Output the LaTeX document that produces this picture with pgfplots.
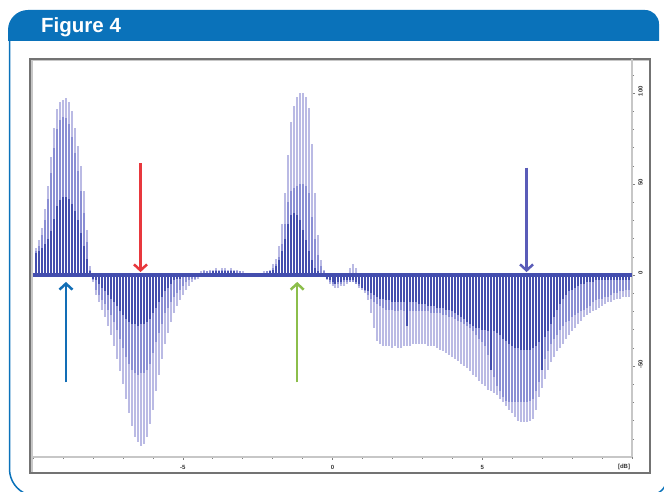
\documentclass[border=0pt]{standalone}
\usepackage{fontspec}
\setmainfont{Liberation Sans}
\usepackage{pgfplots}
\usepackage{pgfplotstable}
\pgfplotsset{compat=1.18}
\usetikzlibrary{arrows.meta}
\definecolor{hdr}{RGB}{10,114,186}
\definecolor{lightc}{RGB}{186,186,228}
\definecolor{midc}{RGB}{138,142,212}
\definecolor{darkc}{RGB}{68,78,174}
\definecolor{arrred}{RGB}{232,56,61}
\definecolor{arrblue}{RGB}{18,110,182}
\definecolor{arrgreen}{RGB}{140,190,75}
\definecolor{arrpurple}{RGB}{90,92,184}
\pgfplotstableread{
x L M D
-9.9 15 13 12
-9.8 19 16 13
-9.7 26 22 15
-9.6 36 30 17
-9.5 49 42 20
-9.4 65 56 24
-9.3 81 70 31
-9.2 91 80 38
-9.1 95 85 41
-9.0 96 87 43
-8.9 97 86 43
-8.8 95 83 42
-8.7 90 76 39
-8.6 81 67 35
-8.5 71 57 30
-8.4 60 46 23
-8.3 46 34 16
-8.2 25 18 9
-8.1 5 3 2
-8.0 -4 -3 -2
-7.9 -11 -8 -3
-7.8 -15 -11 -5
-7.7 -19 -14 -7
-7.6 -23 -16 -9
-7.5 -28 -19 -11
-7.4 -33 -22 -13
-7.3 -39 -26 -15
-7.2 -46 -30 -17
-7.1 -53 -35 -20
-7.0 -60 -40 -22
-6.9 -68 -45 -24
-6.8 -76 -49 -26
-6.7 -83 -52 -27
-6.6 -89 -54 -27
-6.5 -92 -55 -28
-6.4 -94 -54 -27
-6.3 -93 -54 -27
-6.2 -89 -52 -26
-6.1 -82 -49 -24
-6.0 -74 -43 -21
-5.9 -64 -37 -18
-5.8 -55 -32 -15
-5.7 -46 -27 -12
-5.6 -38 -21 -9
-5.5 -32 -18 -7
-5.4 -26 -15 -5
-5.3 -21 -12 -3
-5.2 -17 -10 -2
-5.1 -14 -8 -2
-5.0 -11 -6 -1
-4.9 -8 -4 -1
-4.8 -6 -3 -1
-4.7 -4 -2 -1
-4.6 -3 -2 -1
-4.5 -2 -1 -1
-4.4 2 1 1
-4.3 3 2 1
-4.2 2 2 1
-4.1 3 2 1
-4.0 3 2 2
-3.9 4 3 2
-3.8 3 2 2
-3.7 4 3 2
-3.6 4 3 2
-3.5 3 2 2
-3.4 4 3 2
-3.3 3 2 2
-3.2 3 2 1
-3.1 2 2 1
-3.0 2 1 1
-2.9 1 1 1
-2.8 1 1 1
-2.7 1 1 1
-2.6 1 1 1
-2.5 1 1 1
-2.4 1 1 1
-2.3 2 1 1
-2.2 2 2 1
-2.1 3 2 2
-2.0 6 4 3
-1.9 9 6 5
-1.8 16 10 8
-1.7 28 17 13
-1.6 45 28 20
-1.5 66 40 28
-1.4 84 46 33
-1.3 93 48 34
-1.2 98 49 33
-1.1 100 50 30
-1.0 100 50 25
-0.9 98 49 19
-0.8 92 45 13
-0.7 72 32 8
-0.6 45 20 4
-0.5 22 11 2
-0.4 8 5 1
-0.3 3 2 1
-0.2 -3 -2 -2
-0.1 -5 -4 -3
0.0 -6 -5 -4
0.1 -7 -5 -5
0.2 -7 -5 -4
0.3 -6 -5 -4
0.4 -6 -4 -3
0.5 -5 -4 -3
0.6 4 -4 -3
0.7 6 -4 -3
0.8 4 -5 -4
0.9 -7 -6 -5
1.0 -8 -7 -7
1.1 -10 -9 -8
1.2 -14 -11 -9
1.3 -21 -13 -10
1.4 -29 -15 -11
1.5 -36 -16 -12
1.6 -38 -17 -13
1.7 -39 -18 -13
1.8 -39 -19 -14
1.9 -39 -19 -14
2.0 -40 -19 -15
2.1 -39 -20 -15
2.2 -40 -20 -15
2.3 -40 -19 -15
2.4 -39 -20 -15
2.5 -39 -20 -28
2.6 -39 -20 -15
2.7 -38 -20 -15
2.8 -38 -20 -15
2.9 -38 -20 -16
3.0 -38 -20 -16
3.1 -38 -20 -16
3.2 -39 -20 -17
3.3 -39 -21 -17
3.4 -39 -21 -17
3.5 -40 -21 -18
3.6 -41 -21 -18
3.7 -42 -22 -18
3.8 -43 -22 -19
3.9 -44 -23 -19
4.0 -45 -23 -20
4.1 -46 -24 -21
4.2 -47 -25 -22
4.3 -49 -26 -23
4.4 -50 -27 -24
4.5 -51 -28 -26
4.6 -53 -29 -27
4.7 -55 -31 -28
4.8 -56 -33 -29
4.9 -58 -35 -29
5.0 -60 -37 -30
5.1 -61 -39 -30
5.2 -63 -44 -31
5.3 -64 -50 -52
5.4 -65 -56 -31
5.5 -66 -61 -32
5.6 -68 -64 -33
5.7 -70 -67 -35
5.8 -72 -69 -36
5.9 -74 -70 -38
6.0 -76 -70 -39
6.1 -78 -70 -40
6.2 -80 -70 -40
6.3 -81 -70 -41
6.4 -81 -70 -41
6.5 -81 -70 -41
6.6 -80 -69 -41
6.7 -79 -68 -40
6.8 -74 -64 -39
6.9 -67 -59 -37
7.0 -62 -52 -52
7.1 -57 -46 -34
7.2 -52 -42 -31
7.3 -48 -38 -27
7.4 -45 -35 -23
7.5 -42 -33 -19
7.6 -40 -30 -16
7.7 -38 -28 -13
7.8 -35 -26 -11
7.9 -33 -25 -9
8.0 -31 -23 -8
8.1 -29 -22 -7
8.2 -27 -21 -6
8.3 -25 -20 -5
8.4 -23 -19 -5
8.5 -22 -18 -4
8.6 -21 -17 -4
8.7 -20 -15 -4
8.8 -19 -14 -3
8.9 -18 -13 -3
9.0 -17 -13 -3
9.1 -16 -12 -3
9.2 -15 -12 -3
9.3 -15 -11 -3
9.4 -14 -10 -3
9.5 -13 -10 -3
9.6 -13 -9 -3
9.7 -12 -9 -3
9.8 -12 -8 -3
9.9 -12 -8 -3
}\spec

\begin{document}
\begin{tikzpicture}[x=1pt,y=1pt]
\useasboundingbox (0pt,0pt) rectangle (664pt,492pt);
% header
\fill[hdr] (8pt,451pt) -- (8pt,462pt) arc[start angle=180,end angle=90,radius=20pt] -- (645pt,482pt) arc[start angle=90,end angle=0,radius=14pt] -- (659pt,451pt) -- cycle;
\node[anchor=base west, text=white, font=\bfseries\fontsize{20.5}{24}\selectfont, inner sep=0pt] at (41pt,459pt) {Figure 4};
% panel border
\draw[hdr, line width=1.5pt] (9.5pt,452pt) -- (9.5pt,23pt) arc[start angle=180,end angle=250,radius=27pt];
\draw[hdr, line width=1.5pt] (658pt,-1pt) to[bend right=15] (665pt,6pt);
% gray frame
\draw[black!22, line width=2.5pt] (32pt,20pt) -- (32pt,432pt) -- (649pt,432pt);
\draw[black!55, line width=1.1pt] (30pt,19pt) rectangle (650pt,433pt);
\begin{axis}[
  at={(33pt,35pt)}, anchor=south west, scale only axis,
  width=599pt, height=398pt,
  xmin=-10, xmax=10, ymin=-100, ymax=118.7,
  axis x line*=bottom, axis y line*=right,
  axis line style={-, black!22, line width=2pt},
  tick align=outside,
  major tick length=3pt, minor tick length=2pt,
  every tick/.style={black!50, line width=0.5pt},
  xtick={-5,0,5}, minor xtick={-10,-9,...,10},
  ytick={-50,0,50,100}, minor ytick={-90,-80,...,110},
  /pgf/number format/assume math mode=true,
  ticklabel style={font=\bfseries\fontsize{6}{7}\selectfont, text=black!80},
  xticklabel style={yshift=-2pt},
  yticklabel style={rotate=90, anchor=north, xshift=2pt},
]
\addplot[ycomb, draw=lightc, line width=2pt] table[x=x,y=L]{\spec};
\addplot[ycomb, draw=midc, line width=2pt] table[x=x,y=M]{\spec};
\addplot[ycomb, draw=darkc, line width=2pt] table[x=x,y=D]{\spec};
\addplot[draw=darkc, line width=4pt] coordinates {(-10,0) (10,0)};
\draw[arrred, line width=2.5pt, -{Straight Barb[length=6pt,width=13pt]}] (axis cs:-6.41,61.5) -- (axis cs:-6.41,1.6);
\draw[arrblue, line width=2.5pt, -{Straight Barb[length=6pt,width=13pt]}] (axis cs:-8.9,-59) -- (axis cs:-8.9,-3.8);
\draw[arrgreen, line width=2.5pt, -{Straight Barb[length=6pt,width=13pt]}] (axis cs:-1.18,-59) -- (axis cs:-1.18,-3.8);
\draw[arrpurple, line width=2.5pt, -{Straight Barb[length=6pt,width=13pt]}] (axis cs:6.48,59) -- (axis cs:6.48,1.6);
\end{axis}
\node[font=\bfseries\fontsize{6}{7}\selectfont, text=black!80] at (624pt,25pt) {[dB]};
\end{tikzpicture}
\end{document}
